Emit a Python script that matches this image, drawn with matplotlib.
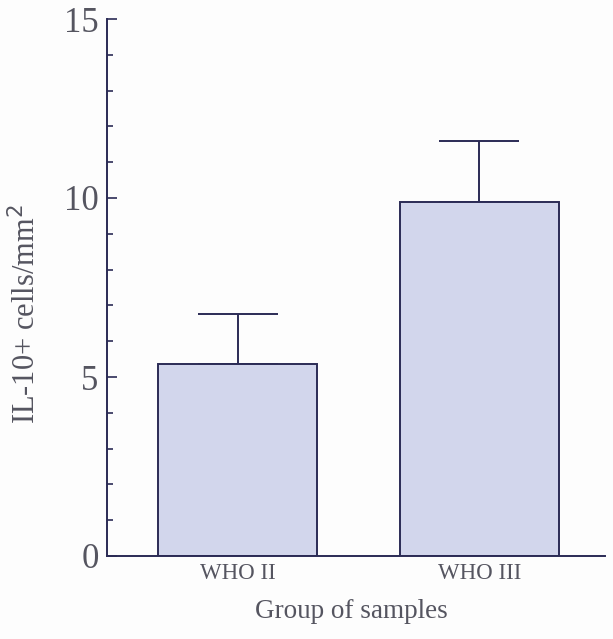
import matplotlib.pyplot as plt
import numpy as np

groups = ['WHO II', 'WHO III']
means = [5.35, 9.9]
errs = [1.4, 1.7]

ink = '#2b2b55'
txt = '#555560'
plt.rcParams['font.family'] = ['Liberation Serif', 'DejaVu Serif']

fig = plt.figure(figsize=(6.13, 6.39), dpi=100)
fig.patch.set_facecolor('#fdfdfd')
ax = fig.add_axes([107/613, 83/639, 498/613, 537/639])
ax.set_facecolor('#fdfdfd')

x = np.arange(len(groups))
ax.bar(x, means, width=0.66, color='#d2d6ec', edgecolor=ink, linewidth=1.4, zorder=2)
ax.errorbar(x, means, yerr=[np.zeros(len(errs)), errs], fmt='none', ecolor=ink,
            elinewidth=1.4, capsize=29, capthick=1.4, zorder=1)

ax.set_xlim(-0.54, 1.52)
ax.set_ylim(0, 15)
ax.set_yticks([0, 5, 10, 15])
ax.set_yticks(np.arange(0, 16, 1), minor=True)
ax.set_xticks(x)
ax.set_xticklabels(groups, fontsize=16.5, color=txt)
ax.tick_params(axis='x', length=0, pad=5)
ax.tick_params(axis='y', which='major', direction='in', length=7, width=1.2,
               color=ink, labelsize=25, labelcolor=txt, pad=6)
ax.tick_params(axis='y', which='minor', direction='in', length=4, width=1.2, color=ink)

for s in ['top', 'right']:
    ax.spines[s].set_visible(False)
for s in ['left', 'bottom']:
    ax.spines[s].set_color(ink)
    ax.spines[s].set_linewidth(1.4)

ax.set_xlabel('Group of samples', fontsize=19.5, color=txt)
ax.xaxis.set_label_coords((351 - 107) / 498, -(599 - 556) / 537)
ax.set_ylabel('IL-10+ cells/mm$^2$', fontsize=22, color=txt)
ax.yaxis.set_label_coords(-(107 - 42) / 498, (556 - 314) / 537)

fig.savefig('out.png', dpi=100, facecolor=fig.get_facecolor())
